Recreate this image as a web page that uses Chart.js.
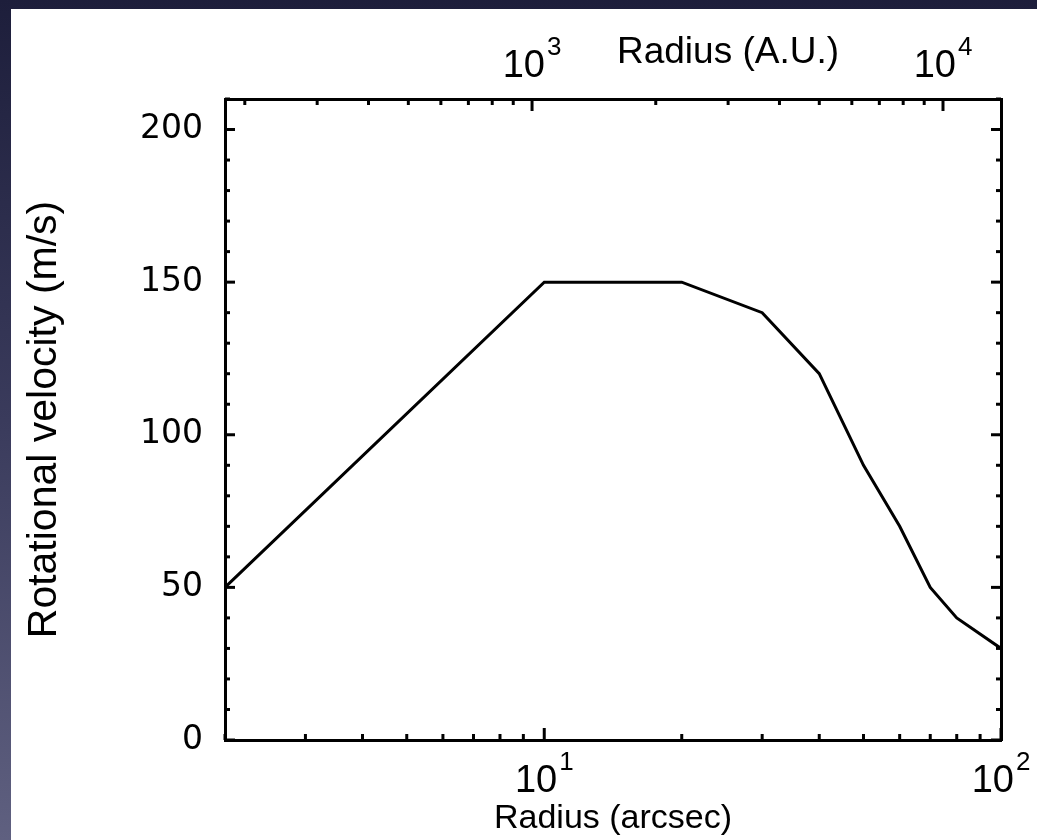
<!DOCTYPE html>
<html>
<head>
<meta charset="utf-8">
<script src="https://cdn.jsdelivr.net/npm/chart.js@4/dist/chart.umd.min.js"></script>
<style>
  html, body { margin: 0; padding: 0; width: 1037px; height: 840px; overflow: hidden; }
  body { background: linear-gradient(to bottom, #1d1e3b 0%, #3a3b5c 50%, #5f6080 100%); position: relative; }
  #panel { position: absolute; left: 11px; top: 9px; right: 0; bottom: 0; background: #ffffff; }
  #c { position: absolute; left: 0; top: 0; }
</style>
</head>
<body>
<div id="panel"></div>
<canvas id="c" width="1037" height="840"></canvas>
<script>
// ---- data ----
const radiusArcsec = [2, 10, 20, 30, 40, 50, 60, 70, 80, 100];
const rotVelocity  = [50, 150, 150, 140, 120, 90, 70, 50, 40, 30];

// ---- axis ranges and tick values ----
const xRange = [2, 100];              // arcsec (bottom)
const auRange = [179, 13840];         // A.U. (top)
const yRange = [0, 210];              // m/s
const xMajorTicks = [10, 100];
const xMinorTicks = [2, 3, 4, 5, 6, 7, 8, 9, 20, 30, 40, 50, 60, 70, 80, 90];
const auMajorTicks = [1000, 10000];
const auMinorTicks = [200, 300, 400, 500, 600, 700, 800, 900, 2000, 3000, 4000, 5000, 6000, 7000, 8000, 9000];
const yMajorTicks = [0, 50, 100, 150, 200];
const yMinorTicks = [10, 20, 30, 40, 60, 70, 80, 90, 110, 120, 130, 140, 160, 170, 180, 190, 210];
const xExponents = {10: '1', 100: '2'};
const auExponents = {1000: '3', 10000: '4'};

const xTitle = 'Radius (arcsec)';
const auTitle = 'Radius (A.U.)';
const yTitle = 'Rotational velocity (m/s)';

const points = radiusArcsec.map((r, i) => ({x: r, y: rotVelocity[i]}));

const labelFont = "'Liberation Sans', 'DejaVu Sans', sans-serif";
const numFont = "'DejaVu Sans', sans-serif";

function drawPower(ctx, cx, baseline, exp) {
  ctx.font = "38px " + labelFont;
  const wb = ctx.measureText('10').width;
  ctx.font = "26px " + labelFont;
  const we = ctx.measureText(exp).width;
  const left = cx - (wb + 2 + we) / 2;
  ctx.textAlign = 'left';
  ctx.textBaseline = 'alphabetic';
  ctx.font = "38px " + labelFont;
  ctx.fillText('10', left, baseline);
  ctx.font = "26px " + labelFont;
  ctx.fillText(exp, left + wb + 2, baseline - 22);
}

const tickPlugin = {
  id: 'inwardTicks',
  afterDraw(chart) {
    const ctx = chart.ctx;
    const a = chart.chartArea;
    const sx = chart.scales.x, st = chart.scales.xTop, sy = chart.scales.y;
    ctx.save();
    ctx.strokeStyle = '#000';
    ctx.lineWidth = 3;
    ctx.lineCap = 'butt';
    const vline = (x, y1, y2) => { ctx.beginPath(); ctx.moveTo(x, y1); ctx.lineTo(x, y2); ctx.stroke(); };
    const hline = (y, x1, x2) => { ctx.beginPath(); ctx.moveTo(x1, y); ctx.lineTo(x2, y); ctx.stroke(); };
    xMajorTicks.forEach(v => { const p = sx.getPixelForValue(v); vline(p, a.bottom, a.bottom - 12); });
    xMinorTicks.forEach(v => { const p = sx.getPixelForValue(v); vline(p, a.bottom, a.bottom - 6); });
    auMajorTicks.forEach(v => { const p = st.getPixelForValue(v); vline(p, a.top, a.top + 12); });
    auMinorTicks.forEach(v => { const p = st.getPixelForValue(v); vline(p, a.top, a.top + 6); });
    yMajorTicks.forEach(v => { const p = sy.getPixelForValue(v); hline(p, a.left, a.left + 10); hline(p, a.right, a.right - 10); });
    yMinorTicks.forEach(v => { const p = sy.getPixelForValue(v); hline(p, a.left, a.left + 5); hline(p, a.right, a.right - 5); });

    ctx.fillStyle = '#000';
    // power-of-ten tick labels with raised exponents
    xMajorTicks.forEach(v => drawPower(ctx, sx.getPixelForValue(v), a.bottom + 52, xExponents[v]));
    auMajorTicks.forEach(v => drawPower(ctx, st.getPixelForValue(v), a.top - 22, auExponents[v]));
    // top axis title sits on the same line as the top tick labels
    ctx.font = "37px " + labelFont;
    ctx.textAlign = 'center';
    ctx.textBaseline = 'alphabetic';
    ctx.fillText(auTitle, 728, 63);
    ctx.restore();
  }
};

const border = { display: true, color: '#000', width: 3 };

new Chart(document.getElementById('c'), {
  type: 'line',
  data: {
    datasets: [{
      data: points,
      borderColor: '#000',
      borderWidth: 3,
      pointRadius: 0,
      tension: 0,
      fill: false,
      xAxisID: 'x',
      yAxisID: 'y'
    }]
  },
  options: {
    responsive: false,
    animation: false,
    layout: { padding: 0 },
    plugins: { legend: { display: false }, tooltip: { enabled: false } },
    scales: {
      x: {
        type: 'logarithmic', position: 'bottom',
        min: xRange[0], max: xRange[1],
        grid: { display: false, drawTicks: false },
        border: border,
        ticks: { display: false },
        title: { display: true, text: xTitle, color: '#000',
                 font: { family: labelFont, size: 34 }, padding: { top: 0, bottom: 1 } },
        afterFit: s => { s.height = 100; }
      },
      xTop: {
        type: 'logarithmic', position: 'top',
        min: auRange[0], max: auRange[1],
        grid: { display: false, drawTicks: false },
        border: border,
        ticks: { display: false },
        afterFit: s => { s.height = 99; }
      },
      y: {
        type: 'linear', position: 'left',
        min: yRange[0], max: yRange[1],
        grid: { display: false, drawTicks: false },
        border: border,
        afterBuildTicks: s => { s.ticks = yMajorTicks.map(v => ({value: v})); },
        ticks: { padding: 22, color: '#000', font: { family: numFont, size: 33 } },
        title: { display: true, text: yTitle, color: '#000',
                 font: { family: labelFont, size: 41 }, padding: { top: 20, bottom: 0 } },
        afterFit: s => { s.width = 225; }
      },
      yRight: {
        type: 'linear', position: 'right',
        min: yRange[0], max: yRange[1],
        grid: { display: false, drawTicks: false },
        border: border,
        ticks: { display: false },
        afterFit: s => { s.width = 36; }
      }
    }
  },
  plugins: [tickPlugin]
});
</script>
</body>
</html>
